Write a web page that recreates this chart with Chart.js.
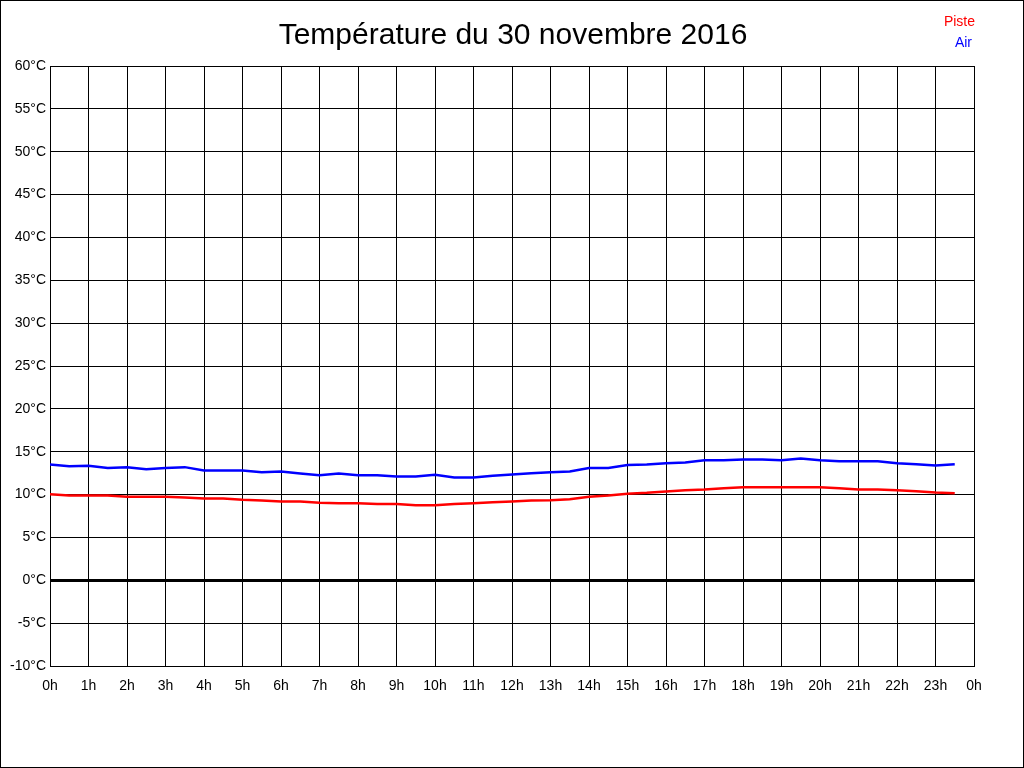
<!DOCTYPE html>
<html>
<head>
<meta charset="utf-8">
<script src="https://cdn.jsdelivr.net/npm/chart.js@4"></script>
<style>
  html, body { margin: 0; padding: 0; background: #fff; }
  canvas { display: block; }
</style>
</head>
<body>
<canvas id="tempChart" width="1024" height="768"></canvas>
<script>
// half-hour readings, 0h .. 23h30
const hours = [0, 0.5, 1, 1.5, 2, 2.5, 3, 3.5, 4, 4.5, 5, 5.5, 6, 6.5, 7, 7.5, 8, 8.5, 9, 9.5,
  10, 10.5, 11, 11.5, 12, 12.5, 13, 13.5, 14, 14.5, 15, 15.5, 16, 16.5, 17, 17.5, 18, 18.5, 19, 19.5,
  20, 20.5, 21, 21.5, 22, 22.5, 23, 23.5];
const piste = [10.05, 9.9, 9.9, 9.9, 9.75, 9.75, 9.75, 9.65, 9.55, 9.55, 9.4, 9.3, 9.2, 9.2, 9.05, 9.0,
  9.0, 8.9, 8.9, 8.75, 8.75, 8.9, 9.0, 9.1, 9.2, 9.3, 9.35, 9.45, 9.75, 9.9, 10.1, 10.2,
  10.35, 10.5, 10.6, 10.75, 10.85, 10.85, 10.85, 10.85, 10.85, 10.75, 10.6, 10.6, 10.5, 10.4, 10.25, 10.15];
const air = [13.5, 13.3, 13.35, 13.1, 13.2, 12.95, 13.1, 13.2, 12.8, 12.8, 12.8, 12.6, 12.7, 12.45, 12.25, 12.45,
  12.25, 12.25, 12.1, 12.1, 12.3, 12.0, 12.0, 12.2, 12.35, 12.5, 12.6, 12.7, 13.1, 13.1, 13.45, 13.5,
  13.65, 13.75, 14.0, 14.0, 14.1, 14.1, 14.0, 14.2, 14.0, 13.9, 13.9, 13.9, 13.65, 13.55, 13.4, 13.55];
const yMin = -10, yMax = 60, yStep = 5;
const title = 'Température du 30 novembre 2016';

const font = 'Arial, "Liberation Sans", sans-serif';

// title, text legend and outer frame
const decor = {
    id: 'decor',
    afterDraw(chart) {
        const ctx = chart.ctx;
        ctx.save();
        ctx.fillStyle = '#000';
        ctx.font = '30px ' + font;
        ctx.textAlign = 'center';
        ctx.textBaseline = 'middle';
        ctx.fillText(title, 513, 36);
        ctx.font = '14px ' + font;
        ctx.textAlign = 'right';
        ctx.fillStyle = '#ff0000';
        ctx.fillText('Piste', 975, 22);
        ctx.fillStyle = '#0000ff';
        ctx.fillText('Air', 972, 43);
        ctx.strokeStyle = '#000';
        ctx.lineWidth = 1;
        ctx.strokeRect(0.5, 0.5, 1023, 767);
        ctx.restore();
    }
};

const bg = {
    id: 'bg',
    beforeDraw(chart) {
        const ctx = chart.ctx;
        ctx.save();
        ctx.fillStyle = '#fff';
        ctx.fillRect(0, 0, chart.width, chart.height);
        ctx.restore();
    }
};

new Chart(document.getElementById('tempChart').getContext('2d'), {
    type: 'line',
    data: {
        labels: hours,
        datasets: [{
            label: 'Piste',
            data: hours.map((h, i) => ({ x: h, y: piste[i] })),
            borderColor: '#ff0000',
            borderWidth: 2.5,
            pointRadius: 0,
            tension: 0,
            fill: false
        }, {
            label: 'Air',
            data: hours.map((h, i) => ({ x: h, y: air[i] })),
            borderColor: '#0000ff',
            borderWidth: 2.5,
            pointRadius: 0,
            tension: 0,
            fill: false
        }]
    },
    options: {
        responsive: false,
        animation: false,
        devicePixelRatio: 1,
        layout: { padding: { left: 0, right: 50, top: 66, bottom: 0 } },
        plugins: {
            legend: { display: false },
            title: { display: false },
            tooltip: { enabled: false }
        },
        scales: {
            x: {
                type: 'linear',
                min: 0,
                max: 24,
                afterFit: s => { s.height = 102; },
                ticks: {
                    stepSize: 1,
                    autoSkip: false,
                    maxRotation: 0,
                    padding: 12,
                    color: '#000',
                    font: { family: font, size: 14 },
                    callback: v => (v % 24) + 'h'
                },
                grid: { color: '#000', lineWidth: 1, drawTicks: false },
                border: { color: '#000', width: 1 }
            },
            y: {
                min: yMin,
                max: yMax,
                afterFit: s => { s.width = 50; },
                ticks: {
                    stepSize: yStep,
                    padding: 4,
                    color: '#000',
                    font: { family: font, size: 14 },
                    callback: v => v + '°C'
                },
                grid: {
                    color: '#000',
                    drawTicks: false,
                    lineWidth: c => (c.tick && c.tick.value === 0 ? 3 : 1)
                },
                border: { color: '#000', width: 1 }
            }
        }
    },
    plugins: [bg, decor]
});
</script>
</body>
</html>
